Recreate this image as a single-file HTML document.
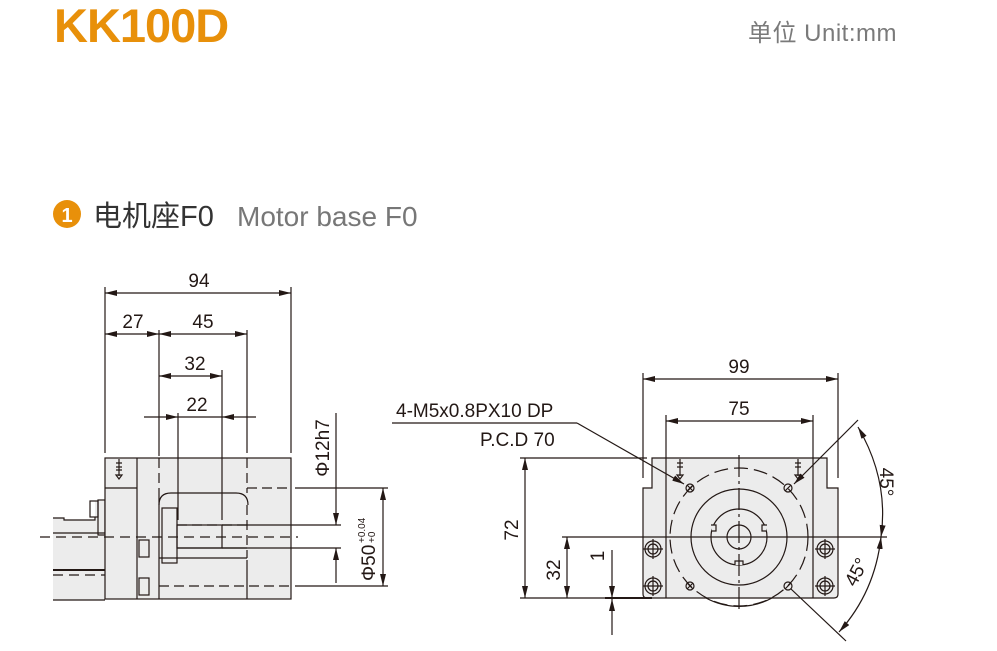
<!DOCTYPE html>
<html><head><meta charset="utf-8"><style>
body{margin:0;background:#fff;width:997px;height:651px;overflow:hidden}
svg{display:block}
</style></head><body>
<svg width="997" height="651" viewBox="0 0 997 651" xmlns="http://www.w3.org/2000/svg" font-family="Liberation Sans, Noto Sans CJK SC, sans-serif">
<defs>
<marker id="a" viewBox="0 0 12 6" refX="12" refY="3" markerWidth="12" markerHeight="6" markerUnits="userSpaceOnUse" orient="auto-start-reverse"><path d="M0,0 L12,3 L0,6 z" fill="#231815"/></marker>
</defs>
<text x="54" y="42" font-size="47" font-weight="bold" fill="#e8900a" letter-spacing="-1">KK100D</text>
<text x="748" y="41" font-size="24" fill="#7a7a7a" letter-spacing="0.5">单位 Unit:mm</text>
<circle cx="67" cy="214" r="14" fill="#e8900a"/>
<text x="67" y="222" font-size="20" font-weight="bold" fill="#fff" text-anchor="middle">1</text>
<text x="93" y="226" font-size="29" fill="#333">电机座F0</text>
<text x="237" y="226" font-size="28" fill="#777">Motor base F0</text>

<g stroke="#231815" stroke-width="1.2" fill="none">
<!-- LEFT VIEW -->
<path d="M53,518 L64,518 L64,520 L95,520 L95,501 L105,501 L105,600 L53,600 Z" fill="#ececec" stroke="none"/>
<path d="M53,518 L64,518 L64,520 L95,520 L95,517"/>
<rect x="90" y="501" width="8" height="16"/>
<rect x="98" y="500" width="7" height="35"/>
<line x1="53" y1="533" x2="105" y2="533"/>
<line x1="53" y1="570" x2="105" y2="570" stroke-width="2"/>
<line x1="53" y1="575" x2="105" y2="575" stroke-dasharray="10,6"/>
<line x1="53" y1="600" x2="105" y2="600"/>
<rect x="105" y="458" width="186" height="141" fill="#ececec"/>
<line x1="137" y1="458" x2="137" y2="599"/>
<line x1="105" y1="488" x2="137" y2="488"/>
<path d="M119,459 L119,476 M116,463 L122,463 M116,467 L122,467 M116,470 L122,470 M116,475 L122,475 L119,479 Z"/>
<line x1="159" y1="458" x2="159" y2="493" stroke-dasharray="10,5"/>
<line x1="159" y1="493" x2="159" y2="599"/>
<line x1="247" y1="458" x2="247" y2="493" stroke-dasharray="10,5"/>
<line x1="247" y1="560" x2="247" y2="599"/>
<path d="M159,505 Q159,493 171,493 L236,493 Q248,493 248,505"/>
<line x1="247" y1="505" x2="247" y2="558" stroke-dasharray="10,5"/>
<line x1="247" y1="488" x2="291" y2="488" stroke-dasharray="10,5"/>
<line x1="159" y1="558" x2="247" y2="558"/>
<line x1="159" y1="586" x2="291" y2="586" stroke-dasharray="10,5"/>
<rect x="162" y="508" width="15" height="55"/>
<rect x="177" y="525" width="45" height="23"/>
<line x1="177" y1="525" x2="247" y2="525" stroke-dasharray="10,5"/>
<line x1="177" y1="548" x2="247" y2="548"/>
<line x1="40" y1="537" x2="298" y2="537" stroke-dasharray="10,6"/>
<rect x="139" y="540" width="10" height="17"/>
<rect x="139" y="578" width="10" height="17"/>
<!-- left dims -->
<line x1="105" y1="287" x2="105" y2="453"/>
<line x1="291" y1="287" x2="291" y2="453"/>
<line x1="105" y1="293" x2="291" y2="293" marker-start="url(#a)" marker-end="url(#a)"/>
<line x1="159" y1="330" x2="159" y2="456"/>
<line x1="247" y1="330" x2="247" y2="453"/>
<line x1="105" y1="334" x2="159" y2="334" marker-start="url(#a)" marker-end="url(#a)"/>
<line x1="159" y1="334" x2="247" y2="334" marker-start="url(#a)" marker-end="url(#a)"/>
<line x1="222" y1="370" x2="222" y2="520"/>
<line x1="159" y1="376" x2="222" y2="376" marker-start="url(#a)" marker-end="url(#a)"/>
<line x1="178" y1="413" x2="178" y2="520"/>
<line x1="144" y1="417" x2="178" y2="417" marker-end="url(#a)"/>
<line x1="256" y1="417" x2="222" y2="417" marker-end="url(#a)"/>
<line x1="178" y1="417" x2="222" y2="417"/>
<line x1="222" y1="525" x2="341" y2="525"/>
<line x1="222" y1="548" x2="341" y2="548"/>
<line x1="336" y1="413" x2="336" y2="525" marker-end="url(#a)"/>
<line x1="336" y1="583" x2="336" y2="548" marker-end="url(#a)"/>
<line x1="295" y1="488" x2="388" y2="488"/>
<line x1="295" y1="586" x2="388" y2="586"/>
<line x1="383" y1="488" x2="383" y2="586" marker-start="url(#a)" marker-end="url(#a)"/>

<!-- RIGHT VIEW -->
<path d="M652,458 L827,458 L827,488 L838,488 L838,594 Q838,598 834,598 L647,598 Q643,598 643,594 L643,488 L652,488 Z" fill="#ececec"/>
<line x1="666" y1="458" x2="666" y2="598"/>
<line x1="813" y1="458" x2="813" y2="598"/>
<line x1="605" y1="598" x2="652" y2="598" stroke-width="2"/>
<circle cx="739" cy="537" r="69" stroke-dasharray="14,6"/>
<path d="M706,598 A69,69 0 0,0 772,598"/>
<circle cx="739" cy="537" r="48"/>
<circle cx="739" cy="537" r="28"/>
<path d="M735,565 V561 H743 V565" fill="#ececec"/>
<path d="M711,525 H716 V531 H712" fill="#ececec"/>
<path d="M767,525 H762 V531 H766" fill="#ececec"/>
<circle cx="739" cy="537" r="12"/>
<line x1="739" y1="455" x2="739" y2="610" stroke-dasharray="22,4,3,4"/>
<line x1="562" y1="537" x2="887" y2="537"/>
<g>
<circle cx="690" cy="488" r="4"/><path d="M687,491 L693,485 M687,485 L693,491"/>
<circle cx="788" cy="488" r="4"/><path d="M785,491 L791,485"/>
<circle cx="690" cy="586" r="4"/><path d="M687,589 L693,583 M687,583 L693,589"/>
<circle cx="788" cy="586" r="4"/><path d="M785,589 L791,583"/>
</g>
<g>
<circle cx="653" cy="549" r="8"/><circle cx="653" cy="549" r="5"/><path d="M643,549 H663 M653,539 V559"/>
<circle cx="653" cy="586" r="8"/><circle cx="653" cy="586" r="5"/><path d="M643,586 H663 M653,576 V596"/>
<circle cx="825" cy="549" r="8"/><circle cx="825" cy="549" r="5"/><path d="M815,549 H835 M825,539 V559"/>
<circle cx="825" cy="586" r="8"/><circle cx="825" cy="586" r="5"/><path d="M815,586 H835 M825,576 V596"/>
</g>
<path d="M680,459 L680,476 M677,463 L683,463 M677,467 L683,467 M677,475 L683,475 L680,479 Z"/>
<path d="M798,459 L798,476 M795,463 L801,463 M795,467 L801,467 M795,475 L801,475 L798,479 Z"/>
<!-- right dims -->
<line x1="643" y1="373" x2="643" y2="478"/>
<line x1="838" y1="373" x2="838" y2="478"/>
<line x1="643" y1="379" x2="838" y2="379" marker-start="url(#a)" marker-end="url(#a)"/>
<line x1="666" y1="415" x2="666" y2="458"/>
<line x1="813" y1="415" x2="813" y2="458"/>
<line x1="666" y1="421" x2="813" y2="421" marker-start="url(#a)" marker-end="url(#a)"/>
<line x1="520" y1="458" x2="647" y2="458"/>
<line x1="520" y1="598" x2="605" y2="598"/>
<line x1="525" y1="458" x2="525" y2="598" marker-start="url(#a)" marker-end="url(#a)"/>
<line x1="567" y1="537" x2="567" y2="598" marker-start="url(#a)" marker-end="url(#a)"/>
<line x1="612" y1="550" x2="612" y2="598" marker-end="url(#a)"/>
<line x1="612" y1="635" x2="612" y2="599" marker-end="url(#a)"/>
<line x1="392" y1="423" x2="577" y2="423"/>
<line x1="577" y1="423" x2="684" y2="484" marker-end="url(#a)"/>
<line x1="858" y1="420" x2="794" y2="484" marker-end="url(#a)"/>
<line x1="791" y1="589" x2="846" y2="641"/>
<path d="M858,427 Q889,480 881,537" marker-start="url(#a)" marker-end="url(#a)"/>
<path d="M881,537 Q875,592 839,632" marker-start="url(#a)" marker-end="url(#a)"/>
</g>

<g fill="#231815" font-size="19">
<text x="199" y="287" text-anchor="middle">94</text>
<text x="133" y="328" text-anchor="middle">27</text>
<text x="203" y="328" text-anchor="middle">45</text>
<text x="195" y="370" text-anchor="middle">32</text>
<text x="197" y="411" text-anchor="middle">22</text>
<text transform="translate(329,448) rotate(-90)" text-anchor="middle">Φ12h7</text>
<g transform="translate(375,545) rotate(-90)">
<text x="-36" y="0">Φ50</text>
<text x="2" y="-10" font-size="10">+0.04</text>
<text x="2" y="0" font-size="10">+0</text>
</g>
<text x="739" y="373" text-anchor="middle">99</text>
<text x="739" y="415" text-anchor="middle">75</text>
<text x="396" y="417">4-M5x0.8PX10 DP</text>
<text x="480" y="446">P.C.D 70</text>
<text transform="translate(518,530) rotate(-90)" text-anchor="middle">72</text>
<text transform="translate(560,570) rotate(-90)" text-anchor="middle">32</text>
<text transform="translate(604,556) rotate(-90)" text-anchor="middle">1</text>
<text transform="translate(880,482) rotate(90)" text-anchor="middle">45°</text>
<text transform="translate(862,575) rotate(-62)" text-anchor="middle">45°</text>
</g>
</svg>
</body></html>
